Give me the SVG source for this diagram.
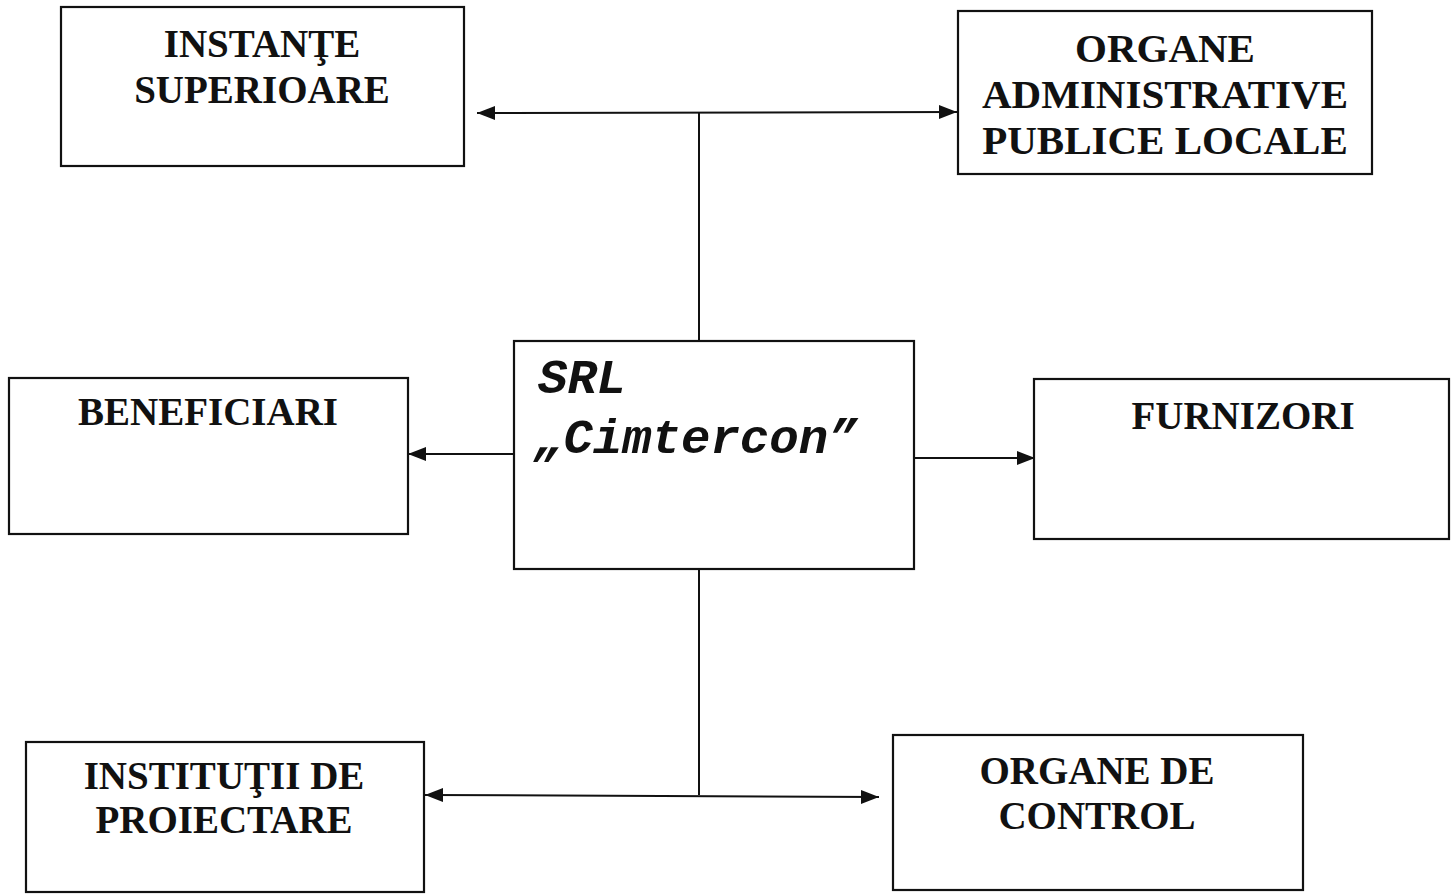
<svg xmlns="http://www.w3.org/2000/svg" width="1456" height="894" viewBox="0 0 1456 894">
<style>
.box{fill:#fff;stroke:#111;stroke-width:2.2}
.t{font-family:"Liberation Serif","Times New Roman",serif;font-weight:bold;font-size:39px;fill:#111;text-anchor:middle}
.t2{font-size:41px}
.m{font-family:"Liberation Mono","Courier New",monospace;font-weight:bold;font-style:italic;font-size:49px;fill:#111}
.c{stroke:#111;stroke-width:2;fill:none}
</style>
<defs>
<marker id="ah" markerUnits="userSpaceOnUse" markerWidth="20" markerHeight="16" refX="18" refY="8" orient="auto-start-reverse">
<path d="M0,1 L18,8 L0,15 Z" fill="#111"/>
</marker>
</defs>
<rect width="1456" height="894" fill="#fff"/>
<g id="connectors">
<line class="c" x1="699" y1="340" x2="699" y2="113"/>
<line class="c" x1="477" y1="113" x2="957" y2="112" marker-start="url(#ah)" marker-end="url(#ah)"/>
<line class="c" x1="514" y1="454" x2="408" y2="454" marker-end="url(#ah)"/>
<line class="c" x1="914" y1="458" x2="1035" y2="458" marker-end="url(#ah)"/>
<line class="c" x1="699" y1="569" x2="699" y2="795"/>
<line class="c" x1="425" y1="795" x2="879" y2="797" marker-start="url(#ah)" marker-end="url(#ah)"/>
</g>
<g id="instante">
<rect class="box" x="61" y="7" width="403" height="159"/>
<text class="t" x="262" y="57">INSTANŢE</text>
<text class="t" x="262" y="103">SUPERIOARE</text>
</g>
<g id="organe-admin">
<rect class="box" x="958" y="11" width="414" height="163"/>
<text class="t t2" x="1165" y="62">ORGANE</text>
<text class="t t2" x="1165" y="108">ADMINISTRATIVE</text>
<text class="t t2" x="1165" y="154">PUBLICE LOCALE</text>
</g>
<g id="srl">
<rect class="box" x="514" y="341" width="400" height="228"/>
<text class="m" x="538" y="393">SRL</text>
<text class="m" x="534" y="453">„Cimtercon”</text>
</g>
<g id="beneficiari">
<rect class="box" x="9" y="378" width="399" height="156"/>
<text class="t" x="208" y="425">BENEFICIARI</text>
</g>
<g id="furnizori">
<rect class="box" x="1034" y="379" width="415" height="160"/>
<text class="t" x="1243" y="429">FURNIZORI</text>
</g>
<g id="institutii">
<rect class="box" x="26" y="742" width="398" height="150"/>
<text class="t" x="224" y="789">INSTITUŢII DE</text>
<text class="t" x="224" y="833">PROIECTARE</text>
</g>
<g id="organe-control">
<rect class="box" x="893" y="735" width="410" height="155"/>
<text class="t" x="1097" y="784">ORGANE DE</text>
<text class="t" x="1097" y="829">CONTROL</text>
</g>
</svg>
